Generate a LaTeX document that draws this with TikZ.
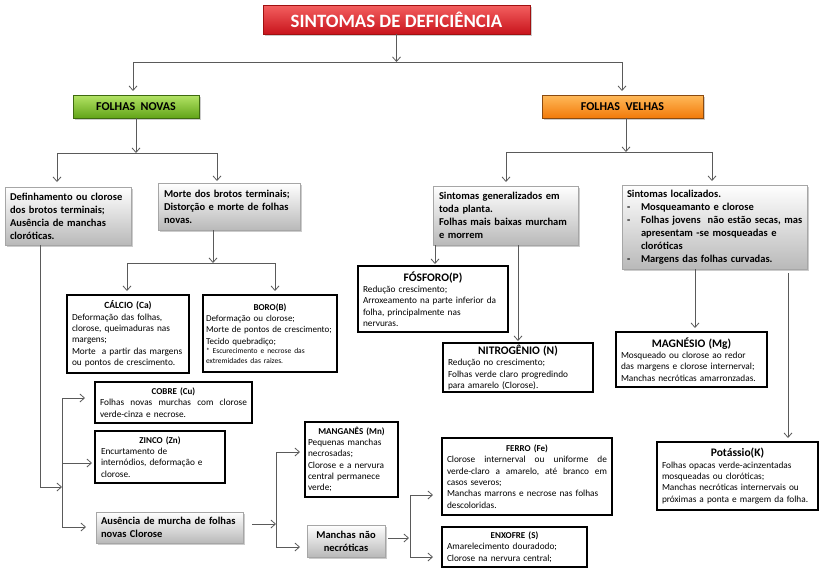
\documentclass[tikz,border=0pt]{standalone}
\usepackage{fontspec}
\setmainfont{Carlito}
\usetikzlibrary{arrows.meta,shadows}
\definecolor{ttop}{HTML}{F46060}
\definecolor{tbot}{HTML}{C8141C}
\definecolor{tbrd}{HTML}{A01010}
\definecolor{gtop}{HTML}{B4E466}
\definecolor{gbot}{HTML}{62A418}
\definecolor{gbrd}{HTML}{3E6A10}
\definecolor{otop}{HTML}{FFBA5A}
\definecolor{obot}{HTML}{F27A0A}
\definecolor{obrd}{HTML}{8A4A10}
\definecolor{lnc}{HTML}{5A5A5A}
\newcommand\ttl[2][9.5]{\makebox[\linewidth][c]{\bfseries\fontsize{#1}{#1}\selectfont #2}\\}
\begin{document}
\hyphenpenalty=10000
\exhyphenpenalty=10000
\begin{tikzpicture}[x=1pt,y=-1pt,
  shd/.style={drop shadow={shadow xshift=2pt,shadow yshift=-2pt,opacity=.4}},
  tbox/.style={anchor=north west,outer sep=0pt,inner sep=0pt,draw=tbrd,line width=0.8pt,
    top color=ttop,bottom color=tbot,text=white,font=\bfseries\fontsize{18.8}{18.8}\selectfont,shd},
  cbox/.style={anchor=north west,outer sep=0pt,inner sep=0pt,line width=0.8pt,
    font=\bfseries\fontsize{12}{12}\selectfont,shd},
  wbox/.style={anchor=north west,outer sep=0pt,draw=black,line width=1.8pt,fill=white,
    inner xsep=5pt,inner ysep=2pt,align=left,font=\fontsize{9.3}{11.3}\selectfont},
  gbox/.style={anchor=north west,outer sep=0pt,draw=gray!70,line width=0.6pt,
    top color=white,bottom color=gray!55,inner xsep=6pt,inner ysep=2pt,align=left,
    font=\bfseries\fontsize{10.5}{13}\selectfont,shd},
  ln/.style={draw=lnc,line width=0.8pt},
  ar/.style={draw=lnc,line width=0.8pt,-{Straight Barb[length=4.5pt,width=8pt]}}
]
\useasboundingbox (0,0) rectangle (820,570);
\fill[white] (0,0) rectangle (820,570);

% top level
\node[tbox,minimum width=267pt,minimum height=29pt] (title) at (263,5) {SINTOMAS DE DEFICIÊNCIA};
\node[cbox,draw=gbrd,top color=gtop,bottom color=gbot,minimum width=126pt,minimum height=23pt] (nov) at (73,95) {FOLHAS\ \ NOVAS};
\node[cbox,draw=obrd,top color=otop,bottom color=obot,minimum width=161pt,minimum height=23pt] (vel) at (542,95) {FOLHAS\ \ VELHAS};

% folhas novas branch
\node[gbox,inner xsep=5pt,text width=116pt,minimum height=58pt] (def) at (5,187)
 {Definhamento ou clorose\\ dos brotos terminais;\\ Ausência de manchas\\ cloróticas.};
\node[gbox,text width=130pt,minimum height=47pt] (mor) at (158,183)
 {Morte dos brotos terminais;\\ Distorção e morte de folhas\\ novas.};
\node[wbox,text width=112pt,minimum height=78pt] (cal) at (67,295)
 {\ttl{CÁLCIO (Ca)}Deformação das folhas,\\ clorose, queimaduras nas\\ margens;\\ \mbox{Morte~ a partir das margens}\\ ou pontos de crescimento.};
\node[wbox,inner xsep=3pt,text width=128pt,minimum height=77pt,font=\fontsize{9}{11.3}\selectfont] (bor) at (203,295)
 {\ttl[9]{BORO(B)}Deformação ou clorose;\\ \mbox{Morte de pontos de crescimento;}\\ Tecido quebradiço;\\ {\fontsize{7.5}{9.5}\selectfont * Escurecimento e necrose das\\ extremidades das raizes.\par}};
\node[wbox,text width=147pt,minimum height=41pt] (cob) at (95,382)
 {\ttl[9]{COBRE (Cu)}\makebox[\linewidth][l]{Folhas\hfill novas\hfill murchas\hfill com\hfill clorose}\\ verde-cinza e necrose.};
\node[wbox,inner xsep=6pt,text width=118pt,minimum height=52pt] (zin) at (95,431)
 {\ttl[9]{ZINCO (Zn)}Encurtamento de\\ internódios, deformação e\\ clorose.};
\node[gbox,inner xsep=5pt,text width=137pt,minimum height=31pt] (aus) at (96,512)
 {\mbox{Ausência de murcha de folhas}\\ novas Clorose};
\node[wbox,inner xsep=3pt,text width=87pt,minimum height=75pt] (man) at (305,422)
 {\ttl[9]{MANGANÊS (Mn)}Pequenas manchas\\ necrosadas;\\ \mbox{Clorose e a nervura}\\ central permanece\\ verde;};
\node[gbox,inner xsep=4pt,align=center,text width=70pt,minimum height=32pt] (mnn) at (307,525)
 {Manchas não\\ necróticas};
\node[wbox,text width=160pt,minimum height=77pt] (fer) at (442,438)
 {\ttl[9]{FERRO (Fe)}\makebox[\linewidth][l]{Clorose\hfill internerval\hfill ou\hfill uniforme\hfill de}\\ \makebox[\linewidth][l]{verde-claro\hfill a\hfill amarelo,\hfill até\hfill branco\hfill em}\\ casos severos;\\ \mbox{Manchas marrons e necrose nas folhas}\\ descoloridas.};
\node[wbox,text width=135pt,minimum height=40pt] (enx) at (442,527)
 {\ttl[9]{ENXOFRE (S)}Amarelecimento douradodo;\\ Clorose na nervura central;};

% folhas velhas branch
\node[gbox,text width=133pt,minimum height=59pt] (gen) at (433,186)
 {Sintomas generalizados em\\ toda planta.\\ \mbox{Folhas mais baixas murcham}\\ e morrem};
\node[gbox,inner xsep=5pt,text width=175pt,minimum height=84pt] (loc) at (622,185)
 {Sintomas localizados.\\
  \makebox[14pt][l]{-}Mosqueamanto e clorose\\
  \makebox[14pt][l]{-}\mbox{Folhas jovens\ \ não estão secas, mas}\\
  \hspace*{14pt}apresentam -se mosqueadas e\\
  \hspace*{14pt}cloróticas\\
  \makebox[14pt][l]{-}Margens das folhas curvadas.};
\node[wbox,text width=140pt,minimum height=66pt] (fos) at (358,266)
 {\ttl[11.5]{FÓSFORO(P)}Redução crescimento;\\ \mbox{Arroxeamento na parte inferior da}\\ folha, principalmente nas\\ nervuras.};
\node[wbox,text width=140pt,minimum height=45pt] (nit) at (443,343)
 {\ttl[11.5]{NITROGÊNIO (N)}Redução no crescimento;\\ \mbox{Folhas verde claro progredindo}\\ para amarelo (Clorose).};
\node[wbox,text width=141pt,minimum height=55pt] (mag) at (616,332)
 {\ttl[11.5]{MAGNÉSIO (Mg)}\mbox{Mosqueado ou clorose ao redor}\\ \mbox{das margens e clorose internerval;}\\ \mbox{Manchas necróticas amarronzadas.}};
\node[wbox,text width=151pt,minimum height=68pt] (pot) at (657,442)
 {\ttl[11.5]{Potássio(K)}\mbox{Folhas opacas verde-acinzentadas}\\ mosqueadas ou cloróticas;\\ \mbox{Manchas necróticas internervais ou}\\ \mbox{próximas a ponta e margem da folha.}};

% connectors: top
\coordinate (j1l) at (133,62); \coordinate (j1r) at (622,62);
\draw[ar] (title.south) -- (title.south |- j1l);
\draw[ln] (j1l) -- (j1r);
\draw[ar,shorten >=4pt] (j1l) -- (j1l |- nov.north);
\draw[ar,shorten >=4pt] (j1r) -- (j1r |- vel.north);

% folhas novas
\coordinate (j2) at (136,153); \coordinate (j2l) at (57,153); \coordinate (j2r) at (217,153);
\draw[ar] (nov.south -| j2) -- (j2);
\draw[ln] (j2l) -- (j2r);
\draw[ar,shorten >=5pt] (j2l) -- (j2l |- def.north);
\draw[ar,shorten >=2pt] (j2r) -- (j2r |- mor.north);

\coordinate (j4) at (213,263); \coordinate (j4l) at (127,263); \coordinate (j4r) at (275,263);
\draw[ar] (mor.south -| j4) -- (j4);
\draw[ln] (j4l) -- (j4r);
\draw[ar,shorten >=4pt] (j4l) -- (j4l |- cal.north);
\draw[ar,shorten >=4pt] (j4r) -- (j4r |- bor.north);

\coordinate (d1) at (40,487); \coordinate (d2) at (62,487);
\draw[ar] (def.south -| d1) -- (d1) -- (d2);
\coordinate (v1t) at (62,398); \coordinate (v1m) at (62,463); \coordinate (v1b) at (62,527);
\draw[ln] (v1t) -- (v1b);
\draw[ar,shorten >=10pt] (v1t) -- (v1t -| cob.west);
\draw[ar,shorten >=3pt] (v1m) -- (v1m -| zin.west);
\draw[ar,shorten >=10pt] (v1b) -- (v1b -| aus.west);

\coordinate (a1) at (276,524); \coordinate (a1t) at (276,452); \coordinate (a1b) at (276,547);
\draw[ar,shorten <=9pt] (aus.east |- a1) -- (a1);
\draw[ln] (a1t) -- (a1b);
\draw[ar,shorten >=5pt] (a1t) -- (a1t -| man.west);
\draw[ar,shorten >=7pt] (a1b) -- (a1b -| mnn.west);

\coordinate (b1) at (409,538); \coordinate (b1t) at (410,495); \coordinate (b1b) at (410,557);
\draw[ar,shorten <=3pt] (mnn.east |- b1) -- (b1);
\draw[ln] (b1t) -- (b1b);
\draw[ar,shorten >=9pt] (b1t) -- (b1t -| fer.west);
\draw[ar,shorten >=9pt] (b1b) -- (b1b -| enx.west);

% folhas velhas
\coordinate (j3) at (626,152); \coordinate (j3l) at (506,152); \coordinate (j3r) at (712,152);
\draw[ar] (vel.south -| j3) -- (j3);
\draw[ln] (j3l) -- (j3r);
\draw[ar,shorten >=4pt] (j3l) -- (j3l |- gen.north);
\draw[ar,shorten >=4pt] (j3r) -- (j3r |- loc.north);

\coordinate (g1) at (435,300); \coordinate (g2) at (518,300);
\draw[ar,shorten >=2pt] (gen.south -| g1) -- (g1 |- fos.north);
\draw[ar,shorten >=2pt] (gen.south -| g2) -- (g2 |- nit.north);

\coordinate (l1) at (695,300); \coordinate (l2) at (788,300);
\draw[ar,shorten >=4pt] (loc.south -| l1) -- (l1 |- mag.north);
\draw[ar,shorten <=4pt,shorten >=4pt] (loc.south -| l2) -- (l2 |- pot.north);
\end{tikzpicture}
\end{document}
